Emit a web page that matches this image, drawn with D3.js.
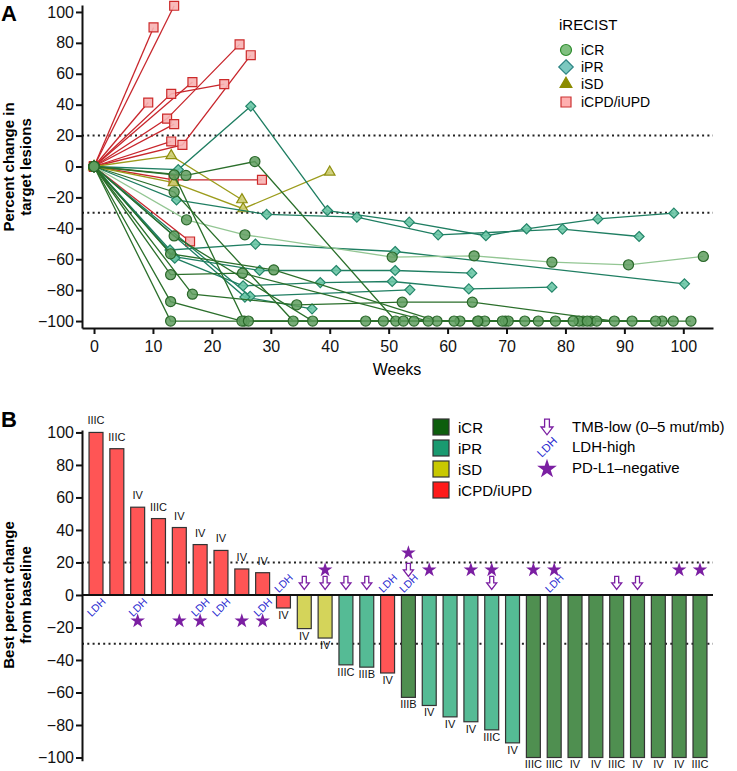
<!DOCTYPE html>
<html>
<head>
<meta charset="utf-8">
<title>iRECIST response</title>
<script src="https://d3js.org/d3.v7.min.js"></script>
<style>
  body { margin: 0; background: #fff; }
  svg { font-family: "Liberation Sans", Arial, sans-serif; }
</style>
</head>
<body>
<svg width="737" height="771"></svg>
<script>

// ---------- Panel A: percent change in target lesions over time ----------
// each series is one patient: [week, % change], grouped by best iRECIST response
const weekTicks = d3.range(0, 101, 10);
const pctTicks = d3.range(-100, 101, 20);

const cpdSeries = [
  [[0, 0], [13.6, 104]],
  [[0, 0], [10.1, 90]],
  [[0, 0], [16.7, 54.6]],
  [[0, 0], [13.1, 47], [22.1, 53.3]],
  [[0, 0], [9.2, 41.4]],
  [[0, 0], [12.4, 31], [24.7, 79]],
  [[0, 0], [13.6, 27.4]],
  [[0, 0], [13.1, 16.2]],
  [[0, 0], [15.0, 14], [26.6, 72]],
  [[0, 0], [13.5, -8.6], [28.5, -8.6]],
  [[0, 0], [16.3, -48.5]]
];

const sdSeries = [
  [[0, 0], [13.1, 7], [25.1, -21.5]],
  [[0, 0], [13.5, -10.5], [25.3, -27.3], [40, -3.6]]
];

const prSeries = [
  [[0, 0], [14.3, -2], [26.6, 39], [39.6, -28.5], [53.5, -36], [66.5, -44.8], [73.4, -40.3], [85.5, -33.9], [98.4, -30.2]],
  [[0, 0], [14, -21.6], [29.3, -31], [44.6, -32.8], [58.4, -44.2], [79.5, -40.5], [92.5, -45.3]],
  [[0, 0], [12.9, -54], [27.4, -50.2], [51.1, -55], [100.2, -75.9]],
  [[0, 0], [13.6, -58.3], [28.1, -67.3], [41.1, -67.3], [51.1, -67.3], [64.1, -69]],
  [[0, 0], [13.7, -59.3], [25.3, -77.2], [38.4, -75.1], [50.6, -74.4], [63.6, -79.2], [77.7, -78.1]],
  [[0, 0], [26.5, -84], [53.6, -79.8]],
  [[0, 0], [25.6, -84.5], [37, -92.1]]
];

// first iCR series is drawn with the pale line
const crSeries = [
  [[0, 0], [15.7, -34.5], [25.6, -44.2], [50.6, -58.6], [64.5, -57.8], [77.7, -61.9], [90.7, -63.6], [103.4, -58.2]],
  [[0, 0], [13.6, -5.4], [25.5, -100], [49.1, -100], [65.3, -100], [83, -100], [96.4, -100]],
  [[0, 0], [15.6, -5.8], [27.3, 3.2], [51.2, -100], [62.1, -100], [69.8, -100], [84.3, -100]],
  [[0, 0], [13.6, -16.5], [33.8, -100], [52.5, -100], [66.3, -100], [82.3, -100], [98.3, -100]],
  [[0, 0], [13.6, -44.9], [37.1, -100], [54.3, -100], [70.3, -100], [85.3, -100]],
  [[0, 0], [13, -56.5], [30.5, -66.9], [58.2, -100], [73.1, -100], [81.3, -100]],
  [[0, 0], [13, -70], [25.2, -69], [56.7, -100], [69.3, -100], [83.7, -100], [95.3, -100]],
  [[0, 0], [16.7, -82.6], [34.4, -89.5], [52.3, -87.8], [64.2, -87.8], [88.3, -100], [101.3, -100]],
  [[0, 0], [13, -87.4], [25.1, -100], [46.1, -100], [61.1, -100], [75.4, -100], [91.3, -100]],
  [[0, 0], [13, -100], [26.2, -100], [65.1, -100], [78.3, -100]]
];

// ---------- Panel B: best percent change from baseline (waterfall) ----------
const bestChange = [100, 90, 54, 47, 41.5, 31, 27.4, 16, 13.7, -8, -20.7, -26.5, -43, -44.4, -48,
  -63, -68, -75, -78, -83, -91, -100, -100, -100, -100, -100, -100, -100, -100, -100];
const bestResponse = ["iCPD/iUPD", "iCPD/iUPD", "iCPD/iUPD", "iCPD/iUPD", "iCPD/iUPD", "iCPD/iUPD",
  "iCPD/iUPD", "iCPD/iUPD", "iCPD/iUPD", "iCPD/iUPD", "iSD", "iSD", "iPR", "iPR", "iCPD/iUPD",
  "iCR", "iPR", "iPR", "iPR", "iPR", "iPR", "iCR", "iCR", "iCR", "iCR", "iCR", "iCR", "iCR", "iCR", "iCR"];
const stage = ["IIIC", "IIIC", "IV", "IIIC", "IV", "IV", "IV", "IV", "IV", "IV", "IV", "IV", "IIIC", "IIIB", "IV",
  "IIIB", "IV", "IV", "IV", "IIIC", "IV", "IIIC", "IIIC", "IV", "IV", "IIIC", "IV", "IV", "IV", "IIIC"];
// bar positions (1-based) carrying each marker
const ldhHigh = [1, 3, 6, 7, 9, 10, 15, 16, 23];
const tmbLow = [11, 12, 13, 14, 16, 20, 26, 27];
const pdl1Neg = [3, 5, 6, 8, 9, 12, 16, 17, 19, 20, 22, 23, 29, 30];

const responseKeys = ["iCR", "iPR", "iSD", "iCPD/iUPD"];

const svg = d3.select("svg");
const purple = "#7b1fa2";

// ===================== Panel A =====================
const xA = d3.scaleLinear().domain([-2.04, 105.04]).range([82, 713]);
const yA = d3.scaleLinear().domain([-104.5, 104.5]).range([328, 5]);

// reference lines
[20, -30].forEach(v => {
  svg.append("line")
      .attr("x1", 82).attr("x2", 713)
      .attr("y1", yA(v)).attr("y2", yA(v))
      .attr("stroke", "#222").attr("stroke-width", 2)
      .attr("stroke-dasharray", "2,3.3");
});

const diamond = {
  draw(ctx, size) {
    const r = Math.sqrt(size / 2);
    ctx.moveTo(0, -r); ctx.lineTo(r, 0); ctx.lineTo(0, r); ctx.lineTo(-r, 0); ctx.closePath();
  }
};

const groupsA = [
  { series: cpdSeries, line: "#c8262c", sym: d3.symbolSquare, size: 80, fill: "#f7b3b3", stroke: "#cc2a2a" },
  { series: sdSeries, line: "#9c9c1c", sym: d3.symbolTriangle, size: 48, fill: "#cdcd72", stroke: "#8f8f10" },
  { series: prSeries, line: "#1f7e62", sym: diamond, size: 50, fill: "#6cc6a6", stroke: "#24866a" },
  { series: crSeries, line: "#2b6f2b", sym: d3.symbolCircle, size: 80, fill: "#5f9e5f", stroke: "#2a682a" }
];

const lineA = d3.line().x(d => xA(d[0])).y(d => yA(d[1]));

groupsA.forEach(g => {
  const gg = svg.append("g");
  g.series.forEach((s, i) => {
    const pale = g.series === crSeries && i === 0;
    gg.append("path")
        .attr("d", lineA(s))
        .attr("fill", "none")
        .attr("stroke", pale ? "#93c693" : g.line)
        .attr("stroke-width", 1.3);
  });
  g.series.forEach(s => {
    gg.selectAll(null)
        .data(s)
        .join("path")
        .attr("d", d3.symbol(g.sym, g.size))
        .attr("transform", d => `translate(${xA(d[0])},${yA(d[1])})`)
        .attr("fill", g.fill)
        .attr("fill-opacity", g.series === crSeries ? 0.85 : 0.9)
        .attr("stroke", g.stroke)
        .attr("stroke-width", 1.2);
  });
});

// axes
const yAxisA = svg.append("g")
    .attr("transform", "translate(82,0)")
    .call(d3.axisLeft(yA).tickValues(pctTicks).tickSize(6).tickSizeOuter(0).tickPadding(2));
const xAxisA = svg.append("g")
    .attr("transform", "translate(0,328)")
    .call(d3.axisBottom(xA).tickValues(weekTicks).tickSize(6).tickSizeOuter(0).tickPadding(7));

[yAxisA, xAxisA].forEach(ax => {
  ax.select(".domain").attr("stroke", "#111").attr("stroke-width", 2);
  ax.selectAll(".tick line").attr("stroke", "#111").attr("stroke-width", 2);
  ax.selectAll(".tick text").attr("font-size", 16).attr("fill", "#111")
      .attr("font-family", "Liberation Sans, Arial, sans-serif");
});

svg.append("text")
    .attr("x", 397).attr("y", 375)
    .attr("text-anchor", "middle")
    .attr("font-size", 16)
    .text("Weeks");

[["Percent change in", 14], ["target lesions", 31]].forEach(([t, x]) => {
  svg.append("text")
      .attr("transform", `translate(${x},167) rotate(-90)`)
      .attr("text-anchor", "middle")
      .attr("font-size", 15)
      .attr("font-weight", "bold")
      .text(t);
});

svg.append("text").attr("x", 1).attr("y", 21)
    .attr("font-size", 22).attr("font-weight", "bold").text("A");

// legend A
svg.append("text").attr("x", 559).attr("y", 30).attr("font-size", 15).text("iRECIST");
const legendA = [
  { label: "iCR", sym: d3.symbolCircle, size: 95, fill: "#80c080", stroke: "#2e8b2e" },
  { label: "iPR", sym: diamond, size: 105, fill: "#7cc8c0", stroke: "#2e8585" },
  { label: "iSD", sym: d3.symbolTriangle, size: 60, fill: "#8b8b00", stroke: "#8b8b00" },
  { label: "iCPD/iUPD", sym: d3.symbolSquare, size: 100, fill: "#ffb0b0", stroke: "#cc3333" }
];
const legendAY = [50, 67, 84, 102];
legendA.forEach((d, i) => {
  svg.append("path")
      .attr("d", d3.symbol(d.sym, d.size))
      .attr("transform", `translate(566,${legendAY[i]})`)
      .attr("fill", d.fill).attr("stroke", d.stroke).attr("stroke-width", 1.2);
  svg.append("text")
      .attr("x", 581).attr("y", legendAY[i] + 5)
      .attr("font-size", 14)
      .text(d.label);
});

// ===================== Panel B =====================
const barFill = { "iCR": "#4f8f50", "iPR": "#55bb95", "iSD": "#d4d45a", "iCPD/iUPD": "#ff5555" };
const swatchFill = { "iCR": "#0d5e0d", "iPR": "#1a9a70", "iSD": "#c8c800", "iCPD/iUPD": "#ff1a1a" };

const idx = d3.range(bestChange.length);
const xB = d3.scaleBand().domain(idx).range([85.6, 710.4]).paddingInner(0.33).paddingOuter(0.165);
const yB = d3.scaleLinear().domain([-102, 101.5]).range([760.75, 430]);
const y0 = yB(0);

[20, -30].forEach(v => {
  svg.append("line")
      .attr("x1", 82).attr("x2", 713)
      .attr("y1", yB(v)).attr("y2", yB(v))
      .attr("stroke", "#222").attr("stroke-width", 2)
      .attr("stroke-dasharray", "2,3.3");
});

svg.append("g").selectAll("rect")
    .data(idx)
    .join("rect")
    .attr("x", i => xB(i))
    .attr("width", xB.bandwidth())
    .attr("y", i => yB(Math.max(0, bestChange[i])))
    .attr("height", i => Math.abs(yB(bestChange[i]) - y0))
    .attr("fill", i => barFill[bestResponse[i]])
    .attr("stroke", "#333")
    .attr("stroke-width", 1.2);

svg.append("g").selectAll("text")
    .data(idx)
    .join("text")
    .attr("x", i => xB(i) + xB.bandwidth() / 2)
    .attr("y", i => bestChange[i] >= 0 ? yB(bestChange[i]) - 8 : yB(bestChange[i]) + 11)
    .attr("text-anchor", "middle")
    .attr("font-size", 11)
    .attr("fill", "#111")
    .text(i => stage[i]);

// zero line
svg.append("line")
    .attr("x1", 82).attr("x2", 713)
    .attr("y1", y0).attr("y2", y0)
    .attr("stroke", "#111").attr("stroke-width", 2);

const yAxisB = svg.append("g")
    .attr("transform", "translate(82,0)")
    .call(d3.axisLeft(yB).tickValues(pctTicks).tickSize(6).tickSizeOuter(0).tickPadding(2));
yAxisB.select(".domain").attr("stroke", "#111").attr("stroke-width", 2);
yAxisB.selectAll(".tick line").attr("stroke", "#111").attr("stroke-width", 2);
yAxisB.selectAll(".tick text").attr("font-size", 16).attr("fill", "#111")
    .attr("font-family", "Liberation Sans, Arial, sans-serif");

[["Best percent change", 14], ["from baseline", 31]].forEach(([t, x]) => {
  svg.append("text")
      .attr("transform", `translate(${x},595) rotate(-90)`)
      .attr("text-anchor", "middle")
      .attr("font-size", 15)
      .attr("font-weight", "bold")
      .text(t);
});

svg.append("text").attr("x", 1).attr("y", 427)
    .attr("font-size", 22).attr("font-weight", "bold").text("B");

// marker glyphs
const arrowPath = "M-2,-6.5 L2,-6.5 L2,0 L5,0 L0,6.5 L-5,0 L-2,0 Z";
const starPath = d3.symbol(d3.symbolStar, 66)();

function drawArrow(x, y, k) {
  svg.append("path")
      .attr("d", arrowPath)
      .attr("transform", `translate(${x},${y}) scale(${k})`)
      .attr("fill", "#fff").attr("stroke", purple).attr("stroke-width", 1.3 / k);
}
function drawLdh(x, y, fs) {
  svg.append("text")
      .attr("transform", `translate(${x},${y}) rotate(-45)`)
      .attr("text-anchor", "middle")
      .attr("dominant-baseline", "central")
      .attr("font-size", fs)
      .attr("fill", "#2a2ad0")
      .text("LDH");
}
function drawStar(x, y, k) {
  svg.append("path")
      .attr("d", starPath)
      .attr("transform", `translate(${x},${y}) scale(${k})`)
      .attr("fill", purple);
}

// stacked annotations
const posRows = [12, 26];
const negRows = [-12, -25, -42];
idx.forEach(i => {
  const n = i + 1;
  const cx = xB(i) + xB.bandwidth() / 2;
  const rows = bestChange[i] >= 0 ? posRows : negRows;
  const items = [];
  if (ldhHigh.includes(n)) items.push("ldh");
  if (tmbLow.includes(n)) items.push("tmb");
  items.forEach((it, k) => {
    const y = y0 + rows[k];
    if (it === "ldh") drawLdh(cx, y, 10.5);
    else drawArrow(cx, y, 1);
  });
  if (pdl1Neg.includes(n)) {
    const k = Math.max(1, items.length);
    drawStar(cx, y0 + rows[k], 1);
  }
});

// legend B
const legendBY = [419, 440, 461, 482];
responseKeys.forEach((k, i) => {
  svg.append("rect")
      .attr("x", 433).attr("y", legendBY[i])
      .attr("width", 16).attr("height", 16)
      .attr("fill", swatchFill[k]).attr("stroke", "#333").attr("stroke-width", 1.2);
  svg.append("text")
      .attr("x", 458).attr("y", legendBY[i] + 14)
      .attr("font-size", 15)
      .text(k);
});

drawArrow(547, 427, 1.2);
drawLdh(547, 447, 11.5);
drawStar(547, 469, 1.35);
[["TMB-low (0\u20135 mut/mb)", 432], ["LDH-high", 452], ["PD-L1\u2013negative", 473]].forEach(([t, y]) => {
  svg.append("text").attr("x", 572).attr("y", y).attr("font-size", 15).text(t);
});

</script>
</body>
</html>
